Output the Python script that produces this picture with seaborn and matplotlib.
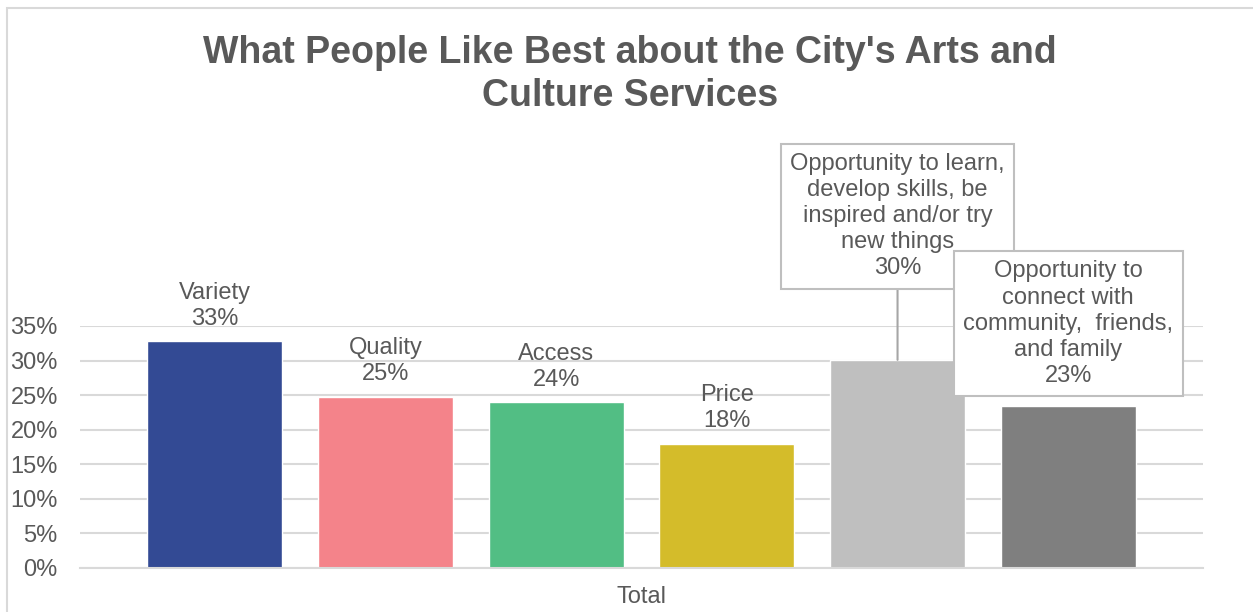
import matplotlib
matplotlib.use("Agg")
import matplotlib.pyplot as plt
import seaborn as sns
import pandas as pd
from matplotlib.patches import Rectangle

sns.set_theme(style="white")
plt.rcParams['font.family'] = ['Liberation Sans', 'DejaVu Sans']

# data
categories = ["Variety", "Quality", "Access", "Price",
              "Opportunity to learn,\ndevelop skills, be\ninspired and/or try\nnew things",
              "Opportunity to\nconnect with\ncommunity,  friends,\nand family"]
values = [0.328, 0.248, 0.240, 0.180, 0.301, 0.234]
colors = ["#334A94", "#F4838A", "#52BE84", "#D4BC2A", "#BFBFBF", "#7F7F7F"]
group = "Total"

df = pd.DataFrame({"group": [group] * len(categories), "cat": categories, "val": values})

text_col = "#595959"
grid_col = "#D9D9D9"

fig = plt.figure(figsize=(12.53, 6.12), dpi=100)
ax = fig.add_axes([80 / 1253, 44 / 612, 1123 / 1253, 242 / 612])

sns.barplot(data=df, x="group", y="val", hue="cat", palette=colors,
            gap=0.21, saturation=1, legend=False, ax=ax)

ax.set_xlim(-0.4386, 0.4386)
ax.set_ylim(0, 0.35)
ax.set_yticks([i * 0.05 for i in range(8)])
ax.set_yticklabels([f"{i * 5}%" for i in range(8)])
ax.yaxis.grid(True, color=grid_col, linewidth=1.5)
ax.set_axisbelow(True)
for s in ["left", "right", "top"]:
    ax.spines[s].set_visible(False)
ax.spines["bottom"].set_color(grid_col)
ax.spines["bottom"].set_linewidth(1.5)
ax.set_xlabel("")
ax.set_ylabel("")
ax.tick_params(axis="y", length=0, pad=16, labelsize=17, labelcolor=text_col)
ax.tick_params(axis="x", length=0, pad=13, labelsize=17, labelcolor=text_col)

# data labels
for i, cont in enumerate(ax.containers):
    p = cont[0]
    cx = p.get_x() + p.get_width() / 2
    h = p.get_height()
    label = f"{categories[i]}\n{h:.0%}"
    if i < 4:
        ax.annotate(label, (cx, h), xytext=(0, 8), textcoords="offset points",
                    ha="center", va="bottom", fontsize=17, color=text_col,
                    linespacing=1.24)
    else:
        off = 58 if i == 4 else 14
        arrow = dict(arrowstyle="-", color="#A6A6A6", lw=1.5, shrinkA=0, shrinkB=0) if i == 4 else None
        ax.annotate(label, (cx, h), xytext=(0, off), textcoords="offset points",
                    ha="center", va="bottom", fontsize=17, color=text_col,
                    linespacing=1.24, annotation_clip=False,
                    bbox=dict(boxstyle="square,pad=0.4", fc="white", ec="#BFBFBF", lw=1.5),
                    arrowprops=arrow)

fig.text(630 / 1253, 1 - 74.5 / 612,
         "What People Like Best about the City's Arts and\nCulture Services",
         ha="center", va="center", fontsize=27, fontweight="bold",
         color=text_col, linespacing=1.22)

# chart area border
fig.patches.append(Rectangle((7 / 1253, -0.05), 1.2, 1 - 8 / 612 + 0.05,
                             transform=fig.transFigure, fill=False,
                             ec=grid_col, lw=1.5))

fig.savefig("out.png", dpi=100)
